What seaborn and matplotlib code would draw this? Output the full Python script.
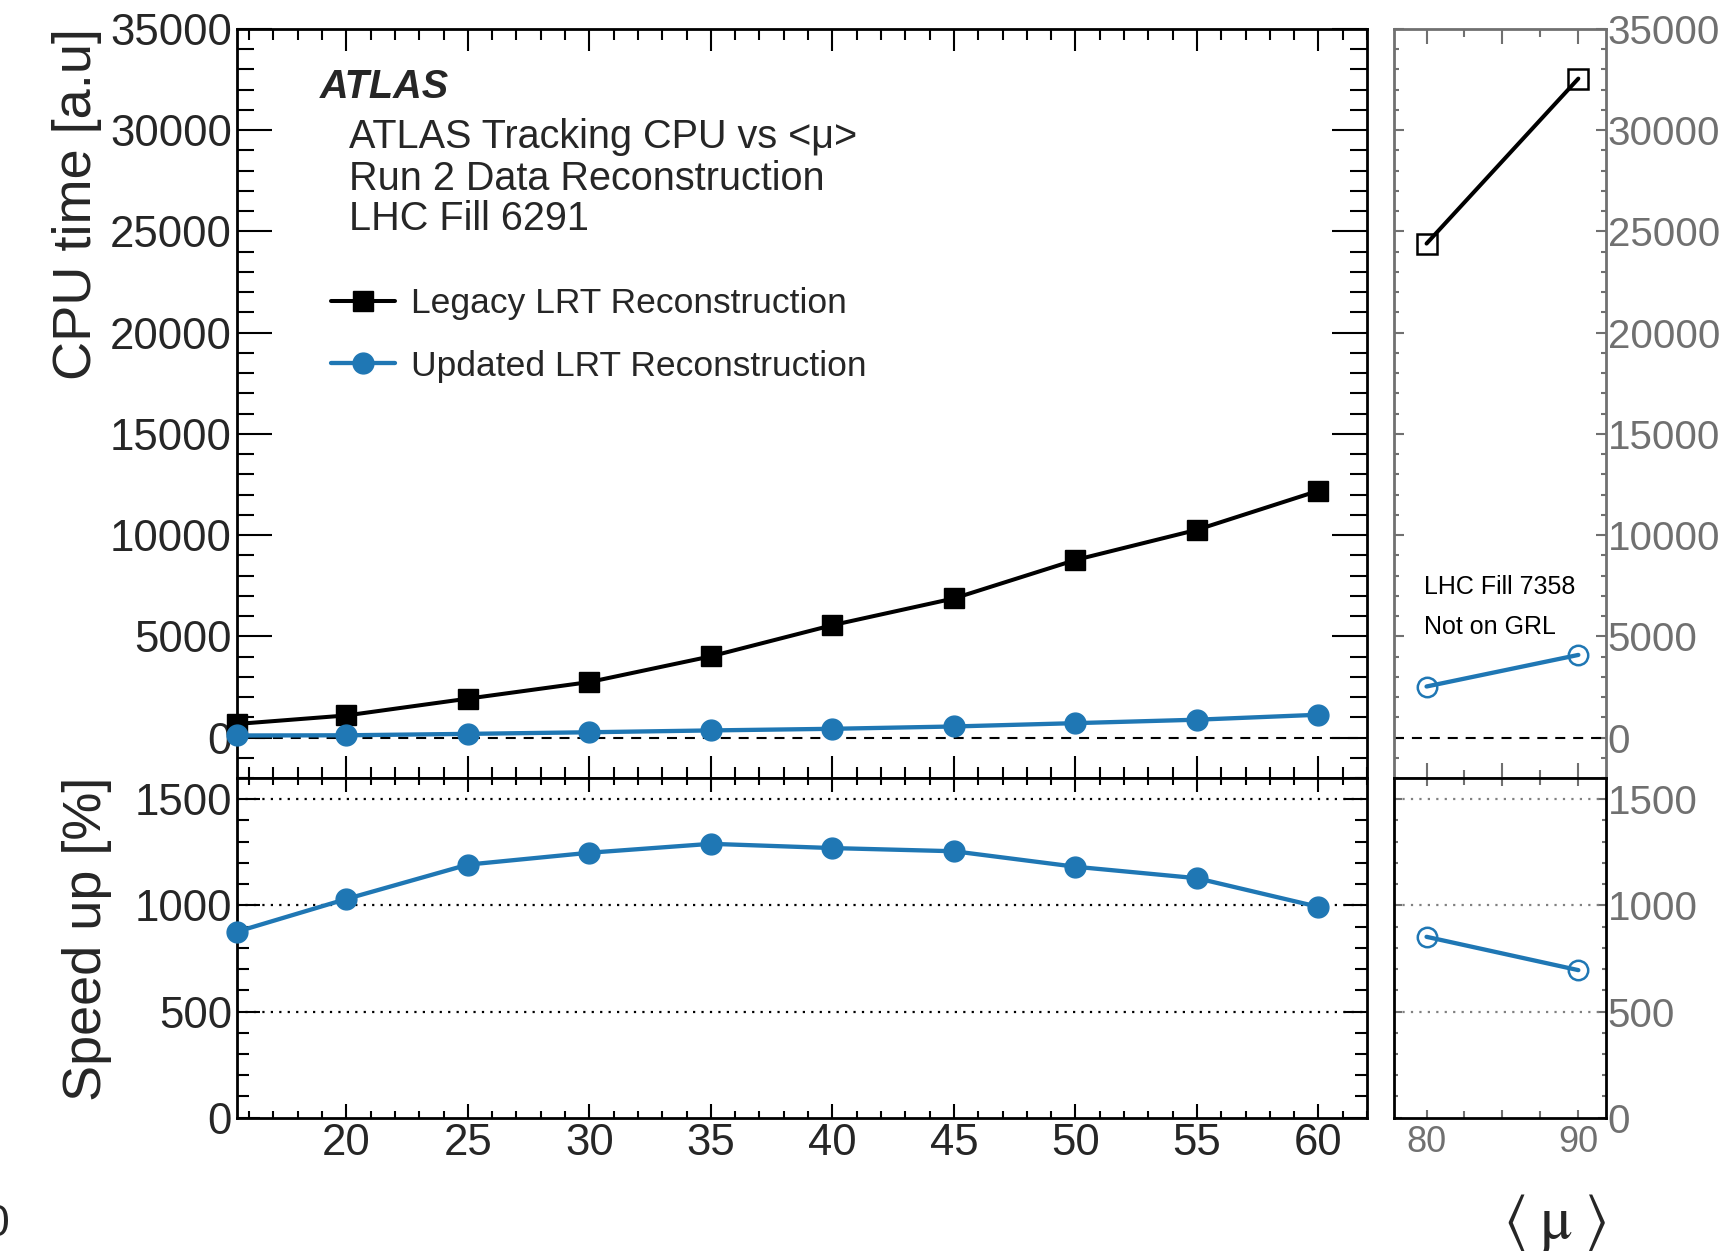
import matplotlib
matplotlib.use("Agg")
import matplotlib.pyplot as plt
import seaborn as sns
import pandas as pd
from matplotlib.ticker import MultipleLocator, FixedLocator

# ---------------- data ----------------
mu_main = [15.5, 20, 25, 30, 35, 40, 45, 50, 55, 60]
cpu_legacy = [670, 1090, 1920, 2740, 4010, 5550, 6870, 8770, 10260, 12190]
cpu_updated = [100, 110, 180, 260, 350, 430, 545, 710, 880, 1125]
speedup_main = [876, 1030, 1192, 1248, 1290, 1270, 1255, 1182, 1128, 993]

mu_extra = [80, 90]
cpu_legacy_extra = [24400, 32550]
cpu_updated_extra = [2520, 4080]
speedup_extra = [852, 695]

legend_labels = ["Legacy LRT Reconstruction", "Updated LRT Reconstruction"]
header_lines = ["ATLAS Tracking CPU vs <μ>", "Run 2 Data Reconstruction", "LHC Fill 6291"]
note_lines = ["LHC Fill 7358", "Not on GRL"]
cpu_ticks = [0, 5000, 10000, 15000, 20000, 25000, 30000, 35000]
speed_ticks = [0, 500, 1000, 1500]
main_xticks = [20, 25, 30, 35, 40, 45, 50, 55, 60]
extra_xticks = [80, 85, 90]
extra_xticklabels = ["80", "", "90"]

BLUE = "#1f77b4"
GRAY = "#707070"

df_main = pd.DataFrame({"mu": mu_main, "legacy": cpu_legacy,
                        "updated": cpu_updated, "speedup": speedup_main})
df_extra = pd.DataFrame({"mu": mu_extra, "legacy": cpu_legacy_extra,
                         "updated": cpu_updated_extra, "speedup": speedup_extra})

sns.set_theme(style="ticks")
plt.rcParams["font.family"] = ["Liberation Sans", "DejaVu Sans"]
plt.rcParams["axes.linewidth"] = 2.0

fig = plt.figure(figsize=(17.32, 12.53), dpi=100)
fig.patch.set_facecolor("white")
L, W = 0.1368, 0.6525
RL, RW = 0.8048, 0.1227
TOP, SPLIT, BOT = 0.97686, 0.37909, 0.10798
ax_top = fig.add_axes([L, SPLIT, W, TOP - SPLIT])
ax_bot = fig.add_axes([L, BOT, W, SPLIT - BOT])
axr_top = fig.add_axes([RL, SPLIT, RW, TOP - SPLIT])
axr_bot = fig.add_axes([RL, BOT, RW, SPLIT - BOT])

# ---------------- main top ----------------
ax_top.axhline(0, color="black", lw=1.5, ls=(0, (4.8, 3.8)), zorder=1)
sns.lineplot(data=df_main, x="mu", y="legacy", ax=ax_top, color="black", lw=2.9,
             marker="s", markersize=14.5, markeredgecolor="black", markeredgewidth=1,
             clip_on=False, legend=False, zorder=3)
h_leg = ax_top.lines[-1]
sns.lineplot(data=df_main, x="mu", y="updated", ax=ax_top, color=BLUE, lw=3.1,
             marker="o", markersize=15, markeredgecolor=BLUE, markeredgewidth=1,
             clip_on=False, legend=False, zorder=3)
h_upd = ax_top.lines[-1]
ax_top.set_xlim(15.5, 62)
ax_top.set_ylim(-2000, 35000)
ax_top.set_xlabel("")
ax_top.set_ylabel("")

# ---------------- main bottom ----------------
for v in speed_ticks[1:]:
    ax_bot.axhline(v, color="black", lw=1.6, ls=(0, (1, 2.8)), zorder=1)
sns.lineplot(data=df_main, x="mu", y="speedup", ax=ax_bot, color=BLUE, lw=3.1,
             marker="o", markersize=15, markeredgecolor=BLUE, markeredgewidth=1,
             clip_on=False, legend=False, zorder=3)
ax_bot.set_xlim(15.5, 62)
ax_bot.set_ylim(0, 1600)
ax_bot.set_xlabel("")
ax_bot.set_ylabel("")

# ---------------- right top ----------------
axr_top.axhline(0, color="black", lw=1.5, ls=(0, (4.8, 3.8)), zorder=1)
sns.lineplot(data=df_extra, x="mu", y="legacy", ax=axr_top, color="black", lw=2.9,
             marker="s", markersize=15, markerfacecolor="none", markeredgecolor="black",
             markeredgewidth=1.8, legend=False, zorder=3)
sns.lineplot(data=df_extra, x="mu", y="updated", ax=axr_top, color=BLUE, lw=3.1,
             marker="o", markersize=14, markerfacecolor="none", markeredgecolor=BLUE,
             markeredgewidth=1.8, legend=False, zorder=3)
axr_top.set_xlim(77.85, 91.85)
axr_top.set_ylim(-2000, 35000)
axr_top.set_xlabel("")
axr_top.set_ylabel("")

# ---------------- right bottom ----------------
for v in speed_ticks[1:]:
    axr_bot.axhline(v, color="#808080", lw=1.6, ls=(0, (1, 2.8)), zorder=1)
sns.lineplot(data=df_extra, x="mu", y="speedup", ax=axr_bot, color=BLUE, lw=3.1,
             marker="o", markersize=14, markerfacecolor="none", markeredgecolor=BLUE,
             markeredgewidth=1.8, legend=False, zorder=3)
axr_bot.set_xlim(77.85, 91.85)
axr_bot.set_ylim(0, 1600)
axr_bot.set_xlabel("")
axr_bot.set_ylabel("")

# ---------------- ticks ----------------
def ticks(ax, xmaj, xmin, ymaj, ymin, width, color, lsize, pad):
    ax.tick_params(axis="x", which="major", direction="in", length=xmaj, width=width,
                   top=True, bottom=True, color=color, labelsize=lsize, pad=pad)
    ax.tick_params(axis="x", which="minor", direction="in", length=xmin, width=width,
                   top=True, bottom=True, color=color)
    ax.tick_params(axis="y", which="major", direction="in", length=ymaj, width=width,
                   left=True, right=True, color=color, labelsize=lsize, pad=pad)
    ax.tick_params(axis="y", which="minor", direction="in", length=ymin, width=width,
                   left=True, right=True, color=color)

for ax in (ax_top, ax_bot):
    ax.xaxis.set_major_locator(FixedLocator(main_xticks))
    ax.xaxis.set_minor_locator(MultipleLocator(1))
for ax in (axr_top, axr_bot):
    ax.set_xticks(extra_xticks, labels=extra_xticklabels)
    ax.xaxis.set_minor_locator(MultipleLocator(2.5))
for ax in (ax_top, axr_top):
    ax.set_yticks(cpu_ticks)
    ax.yaxis.set_minor_locator(MultipleLocator(1000))
for ax in (ax_bot, axr_bot):
    ax.set_yticks(speed_ticks)
    ax.yaxis.set_minor_locator(MultipleLocator(100))

ticks(ax_top, 16, 8, 25, 12, 1.5, "black", 31.5, 3.6)
ticks(ax_bot, 10, 5, 16.5, 8.5, 1.5, "black", 31.5, 3.6)
ticks(axr_top, 11, 5.5, 7, 3.6, 1.5, GRAY, 29, 1)
ticks(axr_bot, 6, 5, 6, 3, 1.5, GRAY, 29, 1)
ax_top.tick_params(axis="x", labelbottom=False)
axr_top.tick_params(axis="x", labelbottom=False)
for ax in (axr_top, axr_bot):
    ax.tick_params(axis="y", labelleft=False, labelright=True, labelcolor=GRAY)
    ax.tick_params(axis="x", labelcolor=GRAY)
axr_bot.tick_params(axis="x", labelsize=26, pad=5)

for ax in (ax_top, ax_bot, axr_bot):
    for s in ax.spines.values():
        s.set_color("black")
        s.set_linewidth(2.0)
for s in axr_top.spines.values():
    s.set_color(GRAY)
    s.set_linewidth(2.0)

# ---------------- labels / texts ----------------
fig.text(0.0445, 0.9777, "CPU time [a.u]", rotation=90, ha="center", va="top", fontsize=39)
fig.text(0.0502, 0.2506, "Speed up [%]", rotation=90, ha="center", va="center", fontsize=39)

ax_top.text(0.0735, 0.9079, "ATLAS", transform=ax_top.transAxes, fontsize=28.5,
            fontweight="bold", fontstyle="italic", va="baseline", ha="left")
for txt, yy in zip(header_lines, [0.8411, 0.7850, 0.7316]):
    ax_top.text(0.0991, yy, txt, transform=ax_top.transAxes, fontsize=28.5,
                va="baseline", ha="left")

ax_top.legend(handles=[h_leg, h_upd], labels=legend_labels, loc="upper left",
              bbox_to_anchor=(0.0832, 0.6553), frameon=False, fontsize=25.5,
              borderpad=0, borderaxespad=0, handlelength=1.8, handletextpad=0.45,
              labelspacing=0.83, numpoints=1)

for txt, yy in zip(note_lines, [0.2457, 0.1923]):
    axr_top.text(0.141, yy, txt, transform=axr_top.transAxes, fontsize=18,
                 va="baseline", ha="left", color="black")

fig.text(0.8978, 0.0247, r"$\langle\;\mathrm{\mu}\;\rangle$", ha="center", va="center",
         fontsize=44, math_fontfamily="stix")
fig.text(0.0052, 1 - 1225 / 1253, "0", ha="right", va="center", fontsize=32)

fig.savefig("out.png", dpi=100, facecolor="white")
